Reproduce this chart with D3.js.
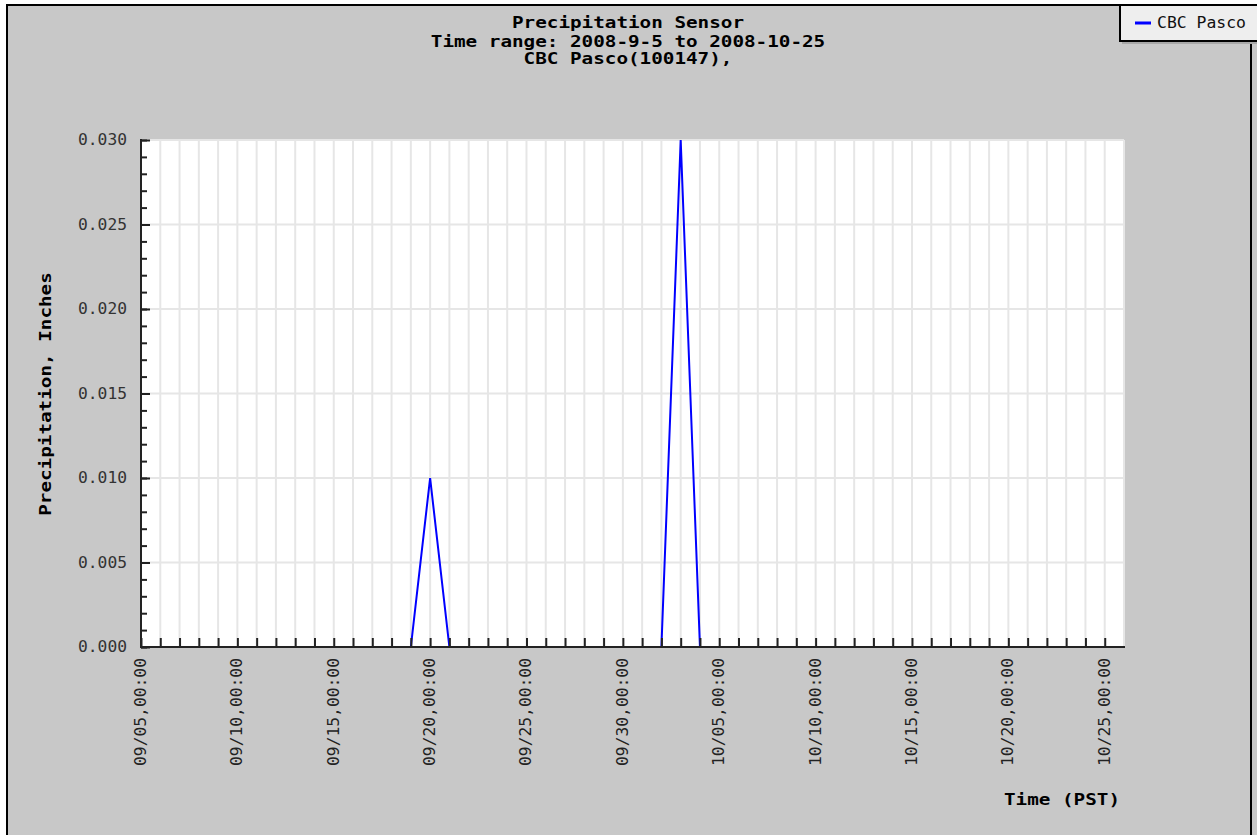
<!DOCTYPE html>
<html>
<head>
<meta charset="utf-8">
<script src="https://cdn.jsdelivr.net/npm/d3@7"></script>
<style>
html,body{margin:0;padding:0;background:#fff;}
svg{display:block;}
</style>
</head>
<body>
<svg id="chart" width="1257" height="835"></svg>
<script>
// ---- data ----
const titleLines = ["Precipitation Sensor", "Time range: 2008-9-5 to 2008-10-25", "CBC Pasco(100147),"];
const seriesName = "CBC Pasco";
const days = ["2008-09-05","2008-09-06","2008-09-07","2008-09-08","2008-09-09","2008-09-10","2008-09-11","2008-09-12","2008-09-13","2008-09-14","2008-09-15","2008-09-16","2008-09-17","2008-09-18","2008-09-19","2008-09-20","2008-09-21","2008-09-22","2008-09-23","2008-09-24","2008-09-25","2008-09-26","2008-09-27","2008-09-28","2008-09-29","2008-09-30","2008-10-01","2008-10-02","2008-10-03","2008-10-04","2008-10-05","2008-10-06","2008-10-07","2008-10-08","2008-10-09","2008-10-10","2008-10-11","2008-10-12","2008-10-13","2008-10-14","2008-10-15","2008-10-16","2008-10-17","2008-10-18","2008-10-19","2008-10-20","2008-10-21","2008-10-22","2008-10-23","2008-10-24","2008-10-25"];
const precip = [0,0,0,0,0,0,0,0,0,0,0,0,0,0,0,0.01,0,0,0,0,0,0,0,0,0,0,0,0,0.03,0,0,0,0,0,0,0,0,0,0,0,0,0,0,0,0,0,0,0,0,0,0];
const yTicks = [0,0.005,0.010,0.015,0.020,0.025,0.030];
const xLabelDays = ["2008-09-05","2008-09-10","2008-09-15","2008-09-20","2008-09-25","2008-09-30","2008-10-05","2008-10-10","2008-10-15","2008-10-20","2008-10-25"];
const xDomain = ["2008-09-05","2008-10-26"];
const yLabel = "Precipitation, Inches";
const xLabel = "Time (PST)";

// ---- layout ----
const svg = d3.select("#chart");
const W = 1257, H = 835;
const plot = {left:141, right:1124, top:140, bottom:647};
const parse = d3.utcParse("%Y-%m-%d");
const fmt = d3.utcFormat("%m/%d,%H:%M");
const boldFont = "'DejaVu Sans Mono', monospace";
const CH = 11.6;

// background
svg.append("rect").attr("x",0).attr("y",0).attr("width",W).attr("height",H).attr("fill","#ffffff");
svg.append("rect").attr("x",7).attr("y",5).attr("width",W-7).attr("height",H-5).attr("fill","#c8c8c8");
// outer border
svg.append("line").attr("x1",7).attr("y1",5).attr("x2",7).attr("y2",H).attr("stroke","#000").attr("stroke-width",2);
svg.append("line").attr("x1",6).attr("y1",5).attr("x2",1121).attr("y2",5).attr("stroke","#000").attr("stroke-width",2);
svg.append("line").attr("x1",1251).attr("y1",41).attr("x2",1251).attr("y2",H).attr("stroke","#000").attr("stroke-width",2);

const x = d3.scaleUtc().domain(xDomain.map(parse)).range([plot.left, plot.right]);
const y = d3.scaleLinear().domain([0,0.03]).range([plot.bottom, plot.top]);

// plot area
svg.append("rect").attr("x",plot.left).attr("y",plot.top)
  .attr("width",plot.right-plot.left).attr("height",plot.bottom-plot.top).attr("fill","#ffffff");

// grid
const gridDays = d3.utcDay.range(parse(xDomain[0]), d3.utcDay.offset(parse(xDomain[1]),1));
svg.append("g").selectAll("line").data(gridDays.slice(1)).join("line")
  .attr("x1",d=>x(d)).attr("x2",d=>x(d)).attr("y1",plot.top).attr("y2",plot.bottom)
  .attr("stroke","#e6e6e6").attr("stroke-width",2);
svg.append("g").selectAll("line").data(yTicks.slice(1)).join("line")
  .attr("x1",plot.left).attr("x2",plot.right).attr("y1",d=>y(d)).attr("y2",d=>y(d))
  .attr("stroke","#e6e6e6").attr("stroke-width",2);

// series line
const data = days.map((d,i)=>({date:parse(d), v:precip[i]}));
svg.append("path").datum(data)
  .attr("fill","none").attr("stroke","#0000ff").attr("stroke-width",2)
  .attr("d", d3.line().x(d=>x(d.date)).y(d=>y(d.v)));

// y axis
const minorY = d3.range(0,31).map(i=>i*0.001);
const yAxisMinor = d3.axisRight(y).tickValues(minorY).tickSize(6).tickFormat("");
const gyMinor = svg.append("g").attr("transform",`translate(${plot.left},0)`).call(yAxisMinor);
const yAxisMajor = d3.axisRight(y).tickValues(yTicks).tickSize(9).tickFormat("");
const gy = svg.append("g").attr("transform",`translate(${plot.left},0)`).call(yAxisMajor);
[gyMinor, gy].forEach(g=>{
  g.select(".domain").remove();
  g.selectAll(".tick line").attr("stroke","#222").attr("stroke-width",2);
});
svg.append("line").attr("x1",plot.left).attr("x2",plot.left).attr("y1",plot.top-1).attr("y2",plot.bottom+1)
  .attr("stroke","#222").attr("stroke-width",2);
svg.append("g").selectAll("text").data(yTicks).join("text")
  .attr("x",127).attr("y",d=>y(d)+5)
  .attr("text-anchor","end")
  .attr("font-family","'DejaVu Sans Mono', monospace").attr("font-size",15)
  .attr("fill","#333")
  .attr("textLength",49).attr("lengthAdjust","spacingAndGlyphs")
  .text(d3.format(".3f"));

// x axis
const xAxis = d3.axisTop(x).tickValues(gridDays.slice(0,-1)).tickSize(9).tickFormat("");
const gx = svg.append("g").attr("transform",`translate(0,${plot.bottom})`).call(xAxis);
gx.select(".domain").remove();
gx.selectAll(".tick line").attr("stroke","#222").attr("stroke-width",2);
svg.append("line").attr("x1",plot.left-1).attr("x2",plot.right+1).attr("y1",plot.bottom).attr("y2",plot.bottom)
  .attr("stroke","#222").attr("stroke-width",2);
svg.append("g").selectAll("text").data(xLabelDays.map(parse)).join("text")
  .attr("transform",d=>`translate(${x(d)+5},658) rotate(-90)`)
  .attr("text-anchor","end")
  .attr("font-family","'DejaVu Sans Mono', monospace").attr("font-size",15)
  .attr("fill","#222")
  .attr("textLength",108).attr("lengthAdjust","spacingAndGlyphs")
  .text(d=>fmt(d));

// titles
svg.append("g").selectAll("text").data(titleLines).join("text")
  .attr("x",628).attr("y",(d,i)=>[28,47,64][i])
  .attr("text-anchor","middle")
  .attr("font-family",boldFont).attr("font-weight","bold").attr("font-size",16)
  .attr("fill","#000")
  .attr("textLength",d=>d.length*CH).attr("lengthAdjust","spacingAndGlyphs")
  .text(d=>d);

// axis titles
svg.append("text")
  .attr("transform","translate(51,394) rotate(-90)")
  .attr("text-anchor","middle")
  .attr("font-family",boldFont).attr("font-weight","bold").attr("font-size",16)
  .attr("textLength",yLabel.length*CH).attr("lengthAdjust","spacingAndGlyphs")
  .text(yLabel);
svg.append("text")
  .attr("x",1120).attr("y",805)
  .attr("text-anchor","end")
  .attr("font-family",boldFont).attr("font-weight","bold").attr("font-size",16)
  .attr("textLength",xLabel.length*CH).attr("lengthAdjust","spacingAndGlyphs")
  .text(xLabel);

// legend
const lg = svg.append("g");
lg.append("rect").attr("x",1122).attr("y",9).attr("width",140).attr("height",35).attr("fill","#a8a8a8");
lg.append("rect").attr("x",1120).attr("y",5).attr("width",140).attr("height",36)
  .attr("fill","#eeeeee").attr("stroke","#000").attr("stroke-width",2);
lg.append("line").attr("x1",1135).attr("x2",1151).attr("y1",23).attr("y2",23)
  .attr("stroke","#0000ff").attr("stroke-width",3);
lg.append("text").attr("x",1157).attr("y",28)
  .attr("font-family","'DejaVu Sans Mono', monospace").attr("font-size",15)
  .attr("fill","#111")
  .attr("textLength",89).attr("lengthAdjust","spacingAndGlyphs")
  .text(seriesName);
</script>
</body>
</html>
